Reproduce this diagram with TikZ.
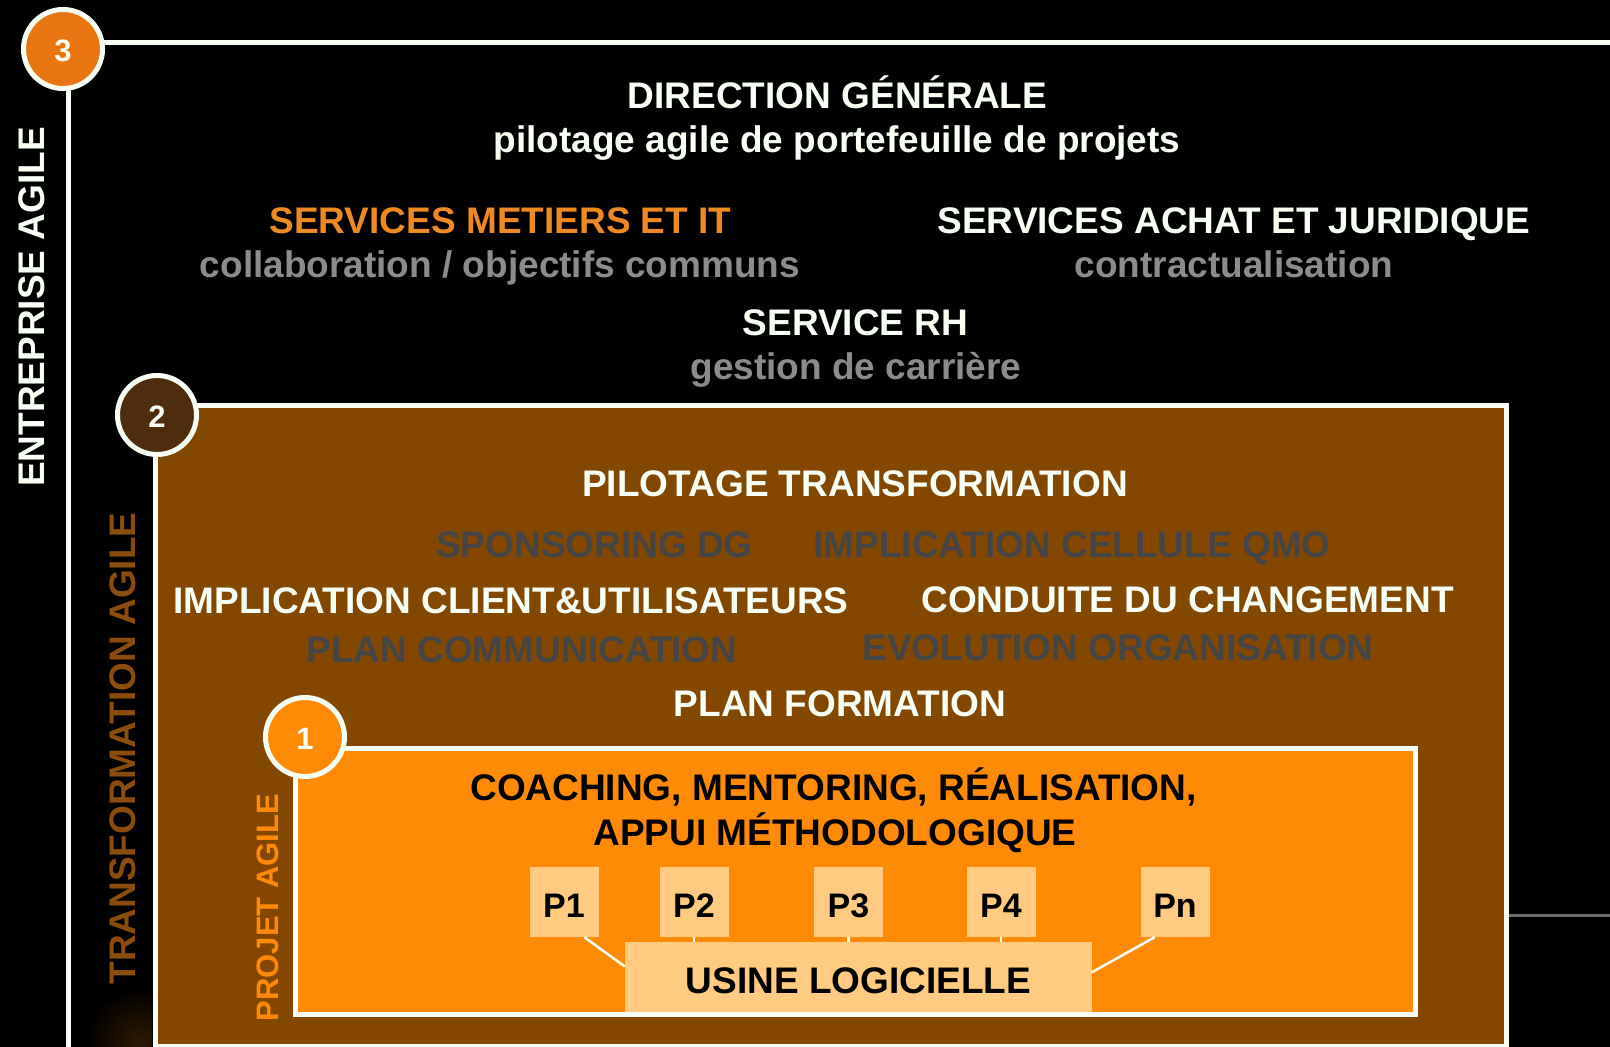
\documentclass[tikz,border=0pt]{standalone}
\usepackage{fontspec}
\setmainfont{Liberation Sans}
\usetikzlibrary{calc}
\definecolor{offwhite}{HTML}{F8FFF4}
\definecolor{boxbrown}{HTML}{844700}
\definecolor{boxorange}{HTML}{FF8A05}
\definecolor{lightorange}{HTML}{FFCB80}
\definecolor{circthree}{HTML}{E87510}
\definecolor{circtwo}{HTML}{4F2D0C}
\definecolor{titleorange}{HTML}{EF8A22}
\definecolor{subgrey}{HTML}{8C8C8C}
\definecolor{darkgrey}{HTML}{454545}
\definecolor{transbrown}{HTML}{8B4C0C}
\definecolor{lineGrey}{HTML}{6A6A6A}
\tikzset{
  frame/.style={draw=offwhite, line width=5pt},
  numcircle/.style={circle, draw=offwhite, line width=5pt, minimum size=79pt, inner sep=0pt,
    text=offwhite, text height=24pt, text depth=0pt, font=\bfseries\fontsize{31}{36}\selectfont},
  txt/.style={font=\bfseries\fontsize{37}{44}\selectfont, inner sep=0pt, anchor=base},
  vtxt/.style={txt, rotate=90},
  pbox/.style={fill=lightorange, minimum width=69pt, minimum height=70pt, inner sep=0pt,
    text=black, text height=30pt, text depth=0pt, font=\bfseries\fontsize{34}{40}\selectfont},
  ubox/.style={fill=lightorange, minimum width=467pt, minimum height=70pt, inner sep=0pt,
    text=black, text height=32pt, text depth=0pt, font=\bfseries\fontsize{37}{44}\selectfont},
  link/.style={draw=offwhite, line width=2.5pt}
}
\begin{document}
\begin{tikzpicture}[x=1pt,y=-1pt]
\useasboundingbox (0,0) rectangle (1610,1047);
\clip (0,0) rectangle (1610,1047);
\fill[black] (0,0) rectangle (1610,1047);

% faint glow bottom left
\begin{scope}
  \clip (72,930) rectangle (152,1047);
  \shade[inner color=boxbrown!35!black, outer color=black] (140,1042) circle (55);
\end{scope}

% level 3 : entreprise
\draw[frame] (1620,42) -- (68,42) -- (68,1060);
\coordinate (g1) at (1506,915);
\coordinate (g2) at (1615,915);
\draw[draw=lineGrey, line width=3pt] (g1) -- (g2);

% level 2 : transformation
\draw[frame, fill=boxbrown] (155,405) rectangle (1506,1046);

% level 1 : projet
\draw[frame, fill=boxorange] (295,748) rectangle (1415,1014);

% numbered circles
\node[numcircle, fill=circthree] (n3) at (63,49) {3};
\node[numcircle, fill=circtwo] (n2) at (157,415) {2};
\node[numcircle, fill=boxorange] (n1) at (305,737) {1};

% vertical labels
\node[vtxt, text=offwhite] (lab3) at (45,307) {ENTREPRISE AGILE};
\node[vtxt, text=transbrown] (lab2) at (135,748.5) {TRANSFORMATION AGILE};
\node[vtxt, text=boxorange, font=\bfseries\fontsize{31}{37}\selectfont] (lab1) at (278,907.5) {PROJET AGILE};

% level 3 texts
\node[txt, text=offwhite] (dg) at (837.5,108) {DIRECTION GÉNÉRALE};
\node[txt, text=offwhite] (dgsub) at (837,152) {pilotage agile de portefeuille de projets};
\node[txt, text=titleorange] (smit) at (500.5,233) {SERVICES METIERS ET IT};
\node[txt, text=subgrey] (smitsub) at (500,277) {collaboration / objectifs communs};
\node[txt, text=offwhite] (saj) at (1234,233) {SERVICES ACHAT ET JURIDIQUE};
\node[txt, text=subgrey] (sajsub) at (1234,277) {contractualisation};
\node[txt, text=offwhite] (srh) at (855.5,335) {SERVICE RH};
\node[txt, text=subgrey] (srhsub) at (856,379) {gestion de carrière};

% level 2 texts
\node[txt, text=offwhite] (pt) at (855,496) {PILOTAGE TRANSFORMATION};
\node[txt, text=darkgrey] (sdg) at (594.5,557) {SPONSORING DG};
\node[txt, text=darkgrey] (qmo) at (1072,557) {IMPLICATION CELLULE QMO};
\node[txt, text=offwhite] (icu) at (511,613) {IMPLICATION CLIENT\&UTILISATEURS};
\node[txt, text=offwhite] (cdc) at (1187.5,612) {CONDUITE DU CHANGEMENT};
\node[txt, text=darkgrey] (pcom) at (522,662) {PLAN COMMUNICATION};
\node[txt, text=darkgrey] (evo) at (1118,660) {EVOLUTION ORGANISATION};
\node[txt, text=offwhite] (pf) at (840,716) {PLAN FORMATION};

% level 1 texts
\node[txt, text=black] (coach) at (833.5,800) {COACHING, MENTORING, RÉALISATION,};
\node[txt, text=black] (appui) at (835,845) {APPUI MÉTHODOLOGIQUE};

% projects and software factory
\node[pbox] (P1) at (564,902) {P1};
\node[pbox] (P2) at (694,902) {P2};
\node[pbox] (P3) at (848.5,902) {P3};
\node[pbox] (P4) at (1001,902) {P4};
\node[pbox] (Pn) at (1175,902) {Pn};
\node[ubox] (usine) at (858.5,977) {USINE LOGICIELLE};

\draw[link] (P1.-60) -- ($(usine.north west)!0.35!(usine.south west)$);
\draw[link] (P2.south) -- (P2.south |- usine.north);
\draw[link] (P3.south) -- (P3.south |- usine.north);
\draw[link] (P4.south) -- (P4.south |- usine.north);
\draw[link] (Pn.-120) -- ($(usine.north east)!0.43!(usine.south east)$);
\end{tikzpicture}
\end{document}
